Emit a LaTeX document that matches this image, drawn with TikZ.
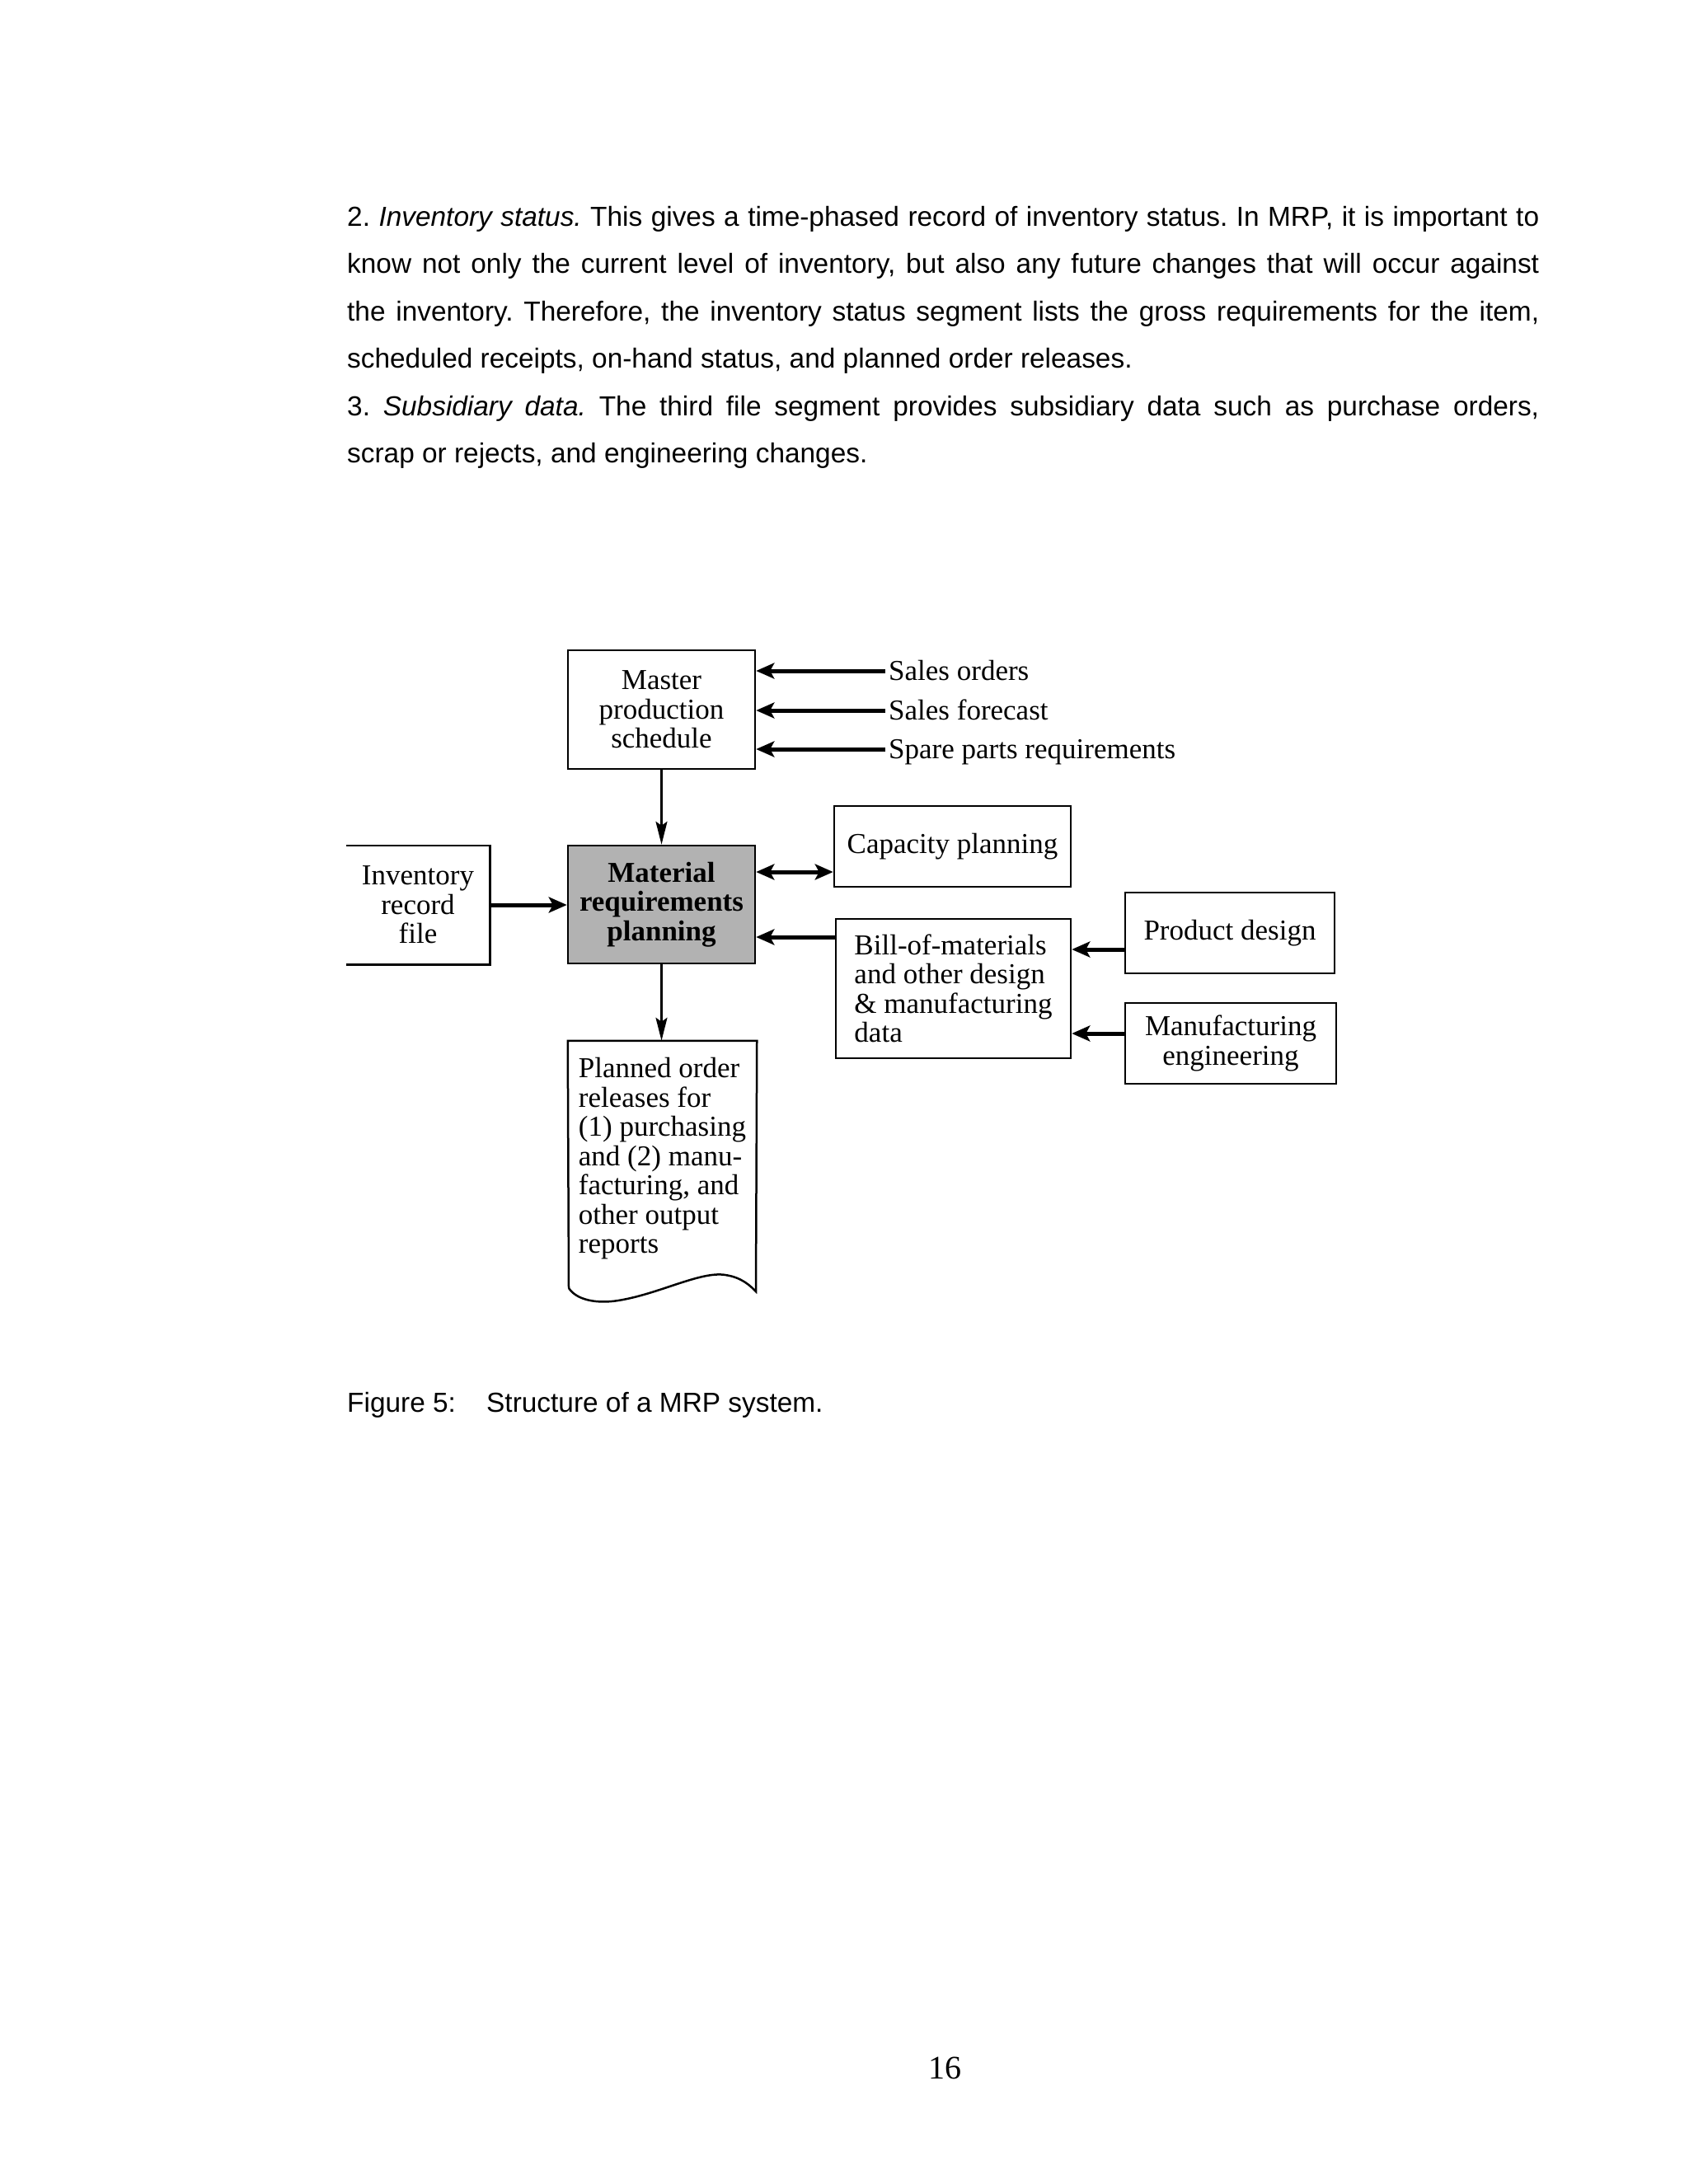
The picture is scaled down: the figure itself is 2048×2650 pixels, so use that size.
\documentclass[tikz,border=0pt]{standalone}
\usepackage{fontspec}
\setmainfont{Liberation Serif}
\newfontfamily\arialfam{Liberation Sans}
\usetikzlibrary{arrows.meta}
\newcommand\diafont{\fontsize{35}{35.5}\selectfont}
\newcommand\bodyfnt{\arialfam\fontsize{33.4}{57.5}\selectfont}
\frenchspacing
\begin{document}
\frenchspacing
\begin{tikzpicture}[x=1pt,y=-1pt,
  box/.style={draw, line width=2.5pt, inner sep=0pt, align=center, font=\diafont},
  lbl/.style={anchor=base west, inner sep=0pt, font=\diafont},
  bodyline/.style={anchor=base west, inner sep=0pt, font=\bodyfnt},
  thickarrow/.style={line width=5pt, -{Stealth[length=22pt,width=19pt,inset=5pt]}},
  thickdbl/.style={line width=5pt, {Stealth[length=22pt,width=19pt,inset=5pt]}-{Stealth[length=22pt,width=19pt,inset=5pt]}},
  thinarrow/.style={line width=2.5pt, -{Stealth[length=28pt,width=14pt,inset=5pt]}}]
\useasboundingbox[fill=white] (0,0) rectangle (2048,2650);

% body text
\node[bodyline] (t1) at (421,274) {\makebox[1446pt][s]{2. \textit{Inventory status.} This gives a time-phased record of inventory status. In MRP, it is important to}};
\node[bodyline] (t2) at (421,331) {\makebox[1446pt][s]{know not only the current level of inventory, but also any future changes that will occur against}};
\node[bodyline] (t3) at (421,389) {\makebox[1446pt][s]{the inventory. Therefore, the inventory status segment lists the gross requirements for the item,}};
\node[bodyline] (t4) at (421,446) {scheduled receipts, on-hand status, and planned order releases.};
\node[bodyline] (t5) at (421,504) {\makebox[1446pt][s]{3. \textit{Subsidiary data.} The third file segment provides subsidiary data such as purchase orders,}};
\node[bodyline] (t6) at (421,561) {scrap or rejects, and engineering changes.};

% boxes
\node[box, minimum width=227pt, minimum height=144pt] (mps) at (802.5,861) {Master\\production\\schedule};
\node[box, fill=black!30, minimum width=227pt, minimum height=143pt, font=\diafont\bfseries] (mrp) at (802.5,1097.5) {Material\\requirements\\planning};
\node[box, draw=none, minimum width=172pt, minimum height=142pt] (inv) at (507,1098) {Inventory\\record\\file};
\draw[line width=2.5pt] (inv.north west) -- (inv.north east) -- (inv.south east) -- (inv.south west);
\node[box, minimum width=287pt, minimum height=98pt] (cap) at (1155.5,1027) {Capacity planning};
\node[box, align=left, minimum width=285pt, minimum height=169pt] (bom) at (1156.5,1199.5) {Bill-of-materials\\and other design\\\& manufacturing\\data};
\node[box, minimum width=254pt, minimum height=98pt] (pd) at (1492,1132) {Product design};
\node[box, minimum width=256pt, minimum height=98pt] (me) at (1493,1266) {Manufacturing\\engineering};

% document shape
\node[box, draw=none, align=left, minimum width=227pt, minimum height=284pt] (plan) at (803.5,1406) {Planned order\\releases for\\(1) purchasing\\and (2) manu-\\facturing, and\\other output\\reports};
\coordinate (pr) at (917,1567);
\coordinate (pl) at (690,1563);
\draw[line width=2.5pt] (pl) -- (plan.north west) -- (plan.north east) -- (pr)
  .. controls (910,1560) and (900,1550) .. (880,1547)
  .. controls (850,1542) and (800,1570) .. (750,1578)
  .. controls (725,1582) and (700,1578) .. (pl);

% labels at top right
\node[lbl] (so) at (1078,825) {Sales orders};
\node[lbl] (sf) at (1078,873) {Sales forecast};
\node[lbl] (sp) at (1078,920) {Spare parts requirements};
\coordinate (so1) at ([shift={(-4pt,11pt)}]so.base west);
\coordinate (sf1) at ([shift={(-4pt,11pt)}]sf.base west);
\coordinate (sp1) at ([shift={(-4pt,11pt)}]sp.base west);
\draw[thickarrow] (so1) -- (so1 -| mps.east);
\draw[thickarrow] (sf1) -- (sf1 -| mps.east);
\draw[thickarrow] (sp1) -- (sp1 -| mps.east);

% connectors
\draw[thinarrow] (mps.south) -- (mrp.north);
\draw[thinarrow] (mrp.south) -- (mrp.south |- plan.north);
\draw[thickarrow] (inv.east) -- (inv.east -| mrp.west);
\coordinate (m1) at ([yshift=39.5pt]mrp.east);
\draw[thickdbl] (m1) -- (m1 -| cap.west);
\coordinate (b1) at ([yshift=-39.5pt]mrp.east);
\draw[thickarrow] (b1 -| bom.west) -- (b1);
\coordinate (p1) at ([yshift=-20pt]pd.west);
\draw[thickarrow] (p1) -- (p1 -| bom.east);
\coordinate (e1) at ([yshift=12pt]me.west);
\draw[thickarrow] (e1) -- (e1 -| bom.east);

% caption and page number
\node[bodyline] (cap1) at (421,1713) {Figure 5:};
\node[bodyline] (cap2) at (590,1713) {Structure of a MRP system.};
\node[anchor=base, inner sep=0pt, font=\fontsize{40}{40}\selectfont] (pg) at (1146,2522) {16};
\end{tikzpicture}
\end{document}
